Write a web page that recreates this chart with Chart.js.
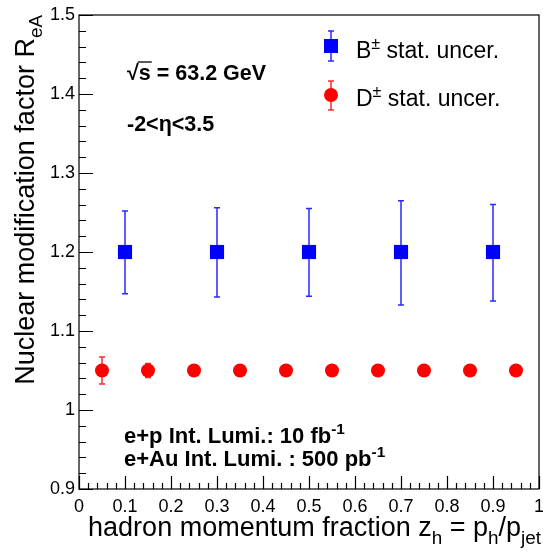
<!DOCTYPE html>
<html>
<head>
<meta charset="utf-8">
<script src="https://cdn.jsdelivr.net/npm/chart.js@4/dist/chart.umd.min.js"></script>
<style>
  html, body { margin: 0; padding: 0; background: #fff; }
  #c { display: block; }
</style>
</head>
<body>
<canvas id="c" width="543" height="552"></canvas>
<script>
// B meson points
const bX = [0.1, 0.3, 0.5, 0.7, 0.9];
const bY = [1.2, 1.2, 1.2, 1.2, 1.2];
const bErrUp = [0.052, 0.056, 0.055, 0.065, 0.060];
const bErrDown = [0.053, 0.057, 0.056, 0.067, 0.062];

// D meson points
const dX = [0.05, 0.15, 0.25, 0.35, 0.45, 0.55, 0.65, 0.75, 0.85, 0.95];
const dY = [1.05, 1.05, 1.05, 1.05, 1.05, 1.05, 1.05, 1.05, 1.05, 1.05];
const dErr = [0.017, 0.009, 0.005, 0.005, 0.005, 0.005, 0.005, 0.005, 0.005, 0.005];

const xRange = [0, 1];
const yRange = [0.9, 1.5];

const FONT = '"Liberation Sans", Arial, Helvetica, sans-serif';

// draws a run of text pieces; each piece may be normal, sub or sup
function richText(ctx, x, y, parts, size, weight) {
  let cx = x;
  parts.forEach(p => {
    let s = size, dy = 0;
    if (p.sub) { s = size * 0.7; dy = size * 0.28; }
    if (p.sup) { s = size * 0.7; dy = -size * 0.4; }
    ctx.font = (weight || '') + ' ' + s + 'px ' + FONT;
    ctx.fillText(p.t, cx, y + dy);
    cx += ctx.measureText(p.t).width;
  });
  return cx - x;
}
function richWidth(ctx, parts, size, weight) {
  let w = 0;
  parts.forEach(p => {
    const s = (p.sub || p.sup) ? size * 0.7 : size;
    ctx.font = (weight || '') + ' ' + s + 'px ' + FONT;
    w += ctx.measureText(p.t).width;
  });
  return w;
}

function errBar(ctx, x, yTop, yBot, color) {
  ctx.strokeStyle = color;
  ctx.lineWidth = 1.5;
  ctx.beginPath();
  ctx.moveTo(x, yTop); ctx.lineTo(x, yBot);
  ctx.moveTo(x - 3, yTop); ctx.lineTo(x + 3, yTop);
  ctx.moveTo(x - 3, yBot); ctx.lineTo(x + 3, yBot);
  ctx.stroke();
}

const errorBars = {
  id: 'errorBars',
  beforeDatasetsDraw(chart) {
    const { ctx, scales: { x, y } } = chart;
    ctx.save();
    bX.forEach((v, i) => {
      errBar(ctx, x.getPixelForValue(v), y.getPixelForValue(bY[i] + bErrUp[i]),
        y.getPixelForValue(bY[i] - bErrDown[i]), '#2a2aff');
    });
    dX.forEach((v, i) => {
      errBar(ctx, x.getPixelForValue(v), y.getPixelForValue(dY[i] + dErr[i]),
        y.getPixelForValue(dY[i] - dErr[i]), '#ff2a2a');
    });
    ctx.restore();
  }
};

// frame, inward ticks, titles, labels and legend
const decorations = {
  id: 'decorations',
  afterDraw(chart) {
    const { ctx, chartArea: a, scales: { x, y } } = chart;
    ctx.save();
    ctx.strokeStyle = '#000';
    ctx.lineWidth = 1.2;
    ctx.strokeRect(a.left, a.top, a.right - a.left, a.bottom - a.top);

    ctx.lineWidth = 1.2;
    ctx.beginPath();
    for (let k = 0; k <= 30; k++) {
      const v = yRange[0] + k * 0.02;
      const py = Math.round(y.getPixelForValue(v)) + 0.5;
      const len = k % 5 === 0 ? 14 : 7;
      ctx.moveTo(a.left, py); ctx.lineTo(a.left + len, py);
    }
    for (let k = 0; k <= 50; k++) {
      const v = xRange[0] + k * 0.02;
      const px = Math.round(x.getPixelForValue(v)) + 0.5;
      const len = k % 5 === 0 ? 13 : 6;
      ctx.moveTo(px, a.bottom); ctx.lineTo(px, a.bottom - len);
    }
    ctx.stroke();

    ctx.fillStyle = '#000';
    ctx.textBaseline = 'alphabetic';
    ctx.textAlign = 'left';

    // x axis title, right aligned to the axis end
    const xt = [{ t: 'hadron momentum fraction z' }, { t: 'h', sub: true }, { t: ' = p' },
      { t: 'h', sub: true }, { t: '/p' }, { t: 'jet', sub: true }];
    const xs = 27;
    richText(ctx, a.right + 2 - richWidth(ctx, xt, xs), 536, xt, xs);

    // y axis title, rotated
    const yt = [{ t: 'Nuclear modification factor R' }, { t: 'eA', sub: true }];
    const ys = 27;
    ctx.save();
    ctx.translate(34, a.top);
    ctx.rotate(-Math.PI / 2);
    richText(ctx, -richWidth(ctx, yt, ys), 0, yt, ys);
    ctx.restore();

    // annotations
    const bs = 21.5;
    ctx.font = 'bold ' + bs + 'px ' + FONT;
    ctx.fillText('\u221A', 127, 80);
    const rw = ctx.measureText('\u221A').width;
    ctx.fillText('s = 63.2 GeV', 127 + rw, 80);
    const sw = ctx.measureText('s').width;
    ctx.lineWidth = 1.3;
    ctx.beginPath();
    ctx.moveTo(127 + rw - 1, 62); ctx.lineTo(127 + rw + sw + 1, 62);
    ctx.stroke();
    ctx.fillText('-2<\u03B7<3.5', 127, 131);
    richText(ctx, 124, 443, [{ t: 'e+p Int. Lumi.: 10 fb' }, { t: '-1', sup: true }], 22, 'bold');
    richText(ctx, 124, 466, [{ t: 'e+Au Int. Lumi. : 500 pb' }, { t: '-1', sup: true }], 22, 'bold');

    // legend
    const ls = 23;
    const lx = 331;
    errBar(ctx, lx, 31, 61, '#2a2aff');
    ctx.fillStyle = '#0000ff';
    ctx.fillRect(lx - 7, 39, 14, 14);
    errBar(ctx, lx, 81, 110, '#ff2a2a');
    ctx.fillStyle = '#ff0000';
    ctx.beginPath(); ctx.arc(lx, 95, 7, 0, Math.PI * 2); ctx.fill();
    ctx.fillStyle = '#000';
    richText(ctx, 356, 58, [{ t: 'B' }, { t: '\u00B1', sup: true }, { t: ' stat. uncer.' }], ls);
    richText(ctx, 356, 106, [{ t: 'D' }, { t: '\u00B1', sup: true }, { t: ' stat. uncer.' }], ls);
    ctx.restore();
  }
};

const tickLabel = v => String(Number(v.toFixed(1)));

new Chart(document.getElementById('c'), {
  type: 'scatter',
  data: {
    datasets: [
      {
        label: 'B stat. uncer.',
        data: bX.map((v, i) => ({ x: v, y: bY[i] })),
        pointStyle: 'rect',
        pointRadius: 10,
        backgroundColor: '#0000ff',
        borderWidth: 0
      },
      {
        label: 'D stat. uncer.',
        data: dX.map((v, i) => ({ x: v, y: dY[i] })),
        pointStyle: 'circle',
        pointRadius: 7,
        backgroundColor: '#ff0000',
        borderWidth: 0
      }
    ]
  },
  options: {
    responsive: false,
    animation: false,
    devicePixelRatio: 1,
    layout: { autoPadding: false, padding: { top: 15, right: 4, left: 0, bottom: 0 } },
    plugins: { legend: { display: false }, tooltip: { enabled: false } },
    scales: {
      x: {
        type: 'linear', min: xRange[0], max: xRange[1],
        grid: { display: false, drawTicks: false },
        border: { display: false },
        ticks: { stepSize: 0.1, color: '#000', padding: 7, maxRotation: 0,
          callback: tickLabel, font: { size: 18, family: FONT } },
        afterFit(s) { s.height = 63; s.paddingLeft = 0; s.paddingRight = 0; }
      },
      y: {
        type: 'linear', min: yRange[0], max: yRange[1],
        grid: { display: false, drawTicks: false },
        border: { display: false },
        ticks: { stepSize: 0.1, color: '#000', padding: 4,
          callback: tickLabel, font: { size: 18, family: FONT } },
        afterFit(s) { s.width = 79; s.paddingTop = 0; s.paddingBottom = 0; }
      }
    }
  },
  plugins: [errorBars, decorations]
});
</script>
</body>
</html>
